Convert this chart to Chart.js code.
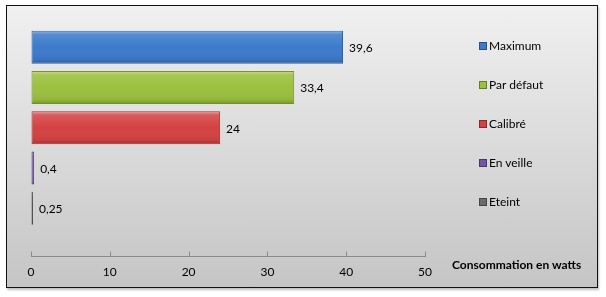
<!DOCTYPE html>
<html lang="fr">
  <head>
    <meta charset="UTF-8" />
    <title>Consommation en watts</title>
    <style>
      body {
        margin: 0;
        background: #fff;
        font-family: Lato, "Open Sans", sans-serif;
      }
      #frame {
        position: absolute;
        left: 6px;
        top: 5px;
        width: 590px;
        height: 281px;
        border: 1px solid #111;
        background: linear-gradient(#f0f0f0, #c5c5c5);
        box-shadow: 1px 2px 2px rgba(0, 0, 0, 0.25);
      }
      #chart {
        position: absolute;
        left: 0;
        top: 0;
      }
      #legend {
        position: absolute;
        left: 472px;
        top: 32px;
        font-size: 12px;
        color: #000;
      }
      .item {
        height: 39px;
        line-height: 16px;
        white-space: nowrap;
      }
      .box {
        display: inline-block;
        width: 6px;
        height: 6px;
        margin-right: 2px;
        vertical-align: 0px;
        border: 1px solid rgba(0, 0, 0, 0.35);
      }
      #axisTitle {
        position: absolute;
        left: 445px;
        top: 251px;
        font-size: 12px;
        font-weight: bold;
        color: #000;
      }
    </style>
    <script src="https://cdn.jsdelivr.net/npm/chart.js"></script>
  </head>
  <body>
    <div id="frame">
      <canvas id="chart" width="590" height="281"></canvas>
      <div id="legend"></div>
      <div id="axisTitle">Consommation en watts</div>
    </div>
    <script>
      // data
      const seriesNames = ["Maximum", "Par défaut", "Calibré", "En veille", "Eteint"];
      const seriesValues = [39.6, 33.4, 24, 0.4, 0.25];
      const valueLabels = ["39,6", "33,4", "24", "0,4", "0,25"];
      const seriesColors = ["#3d7bcb", "#9bc03f", "#d44343", "#7454a6", "#6b6b6b"];
      const borderColors = ["#2c5c9c", "#728f2c", "#a33131", "#553c7c", "#4a4a4a"];
      const xTicks = [0, 10, 20, 30, 40, 50];
      const rows = [1, 2, 3, 4, 5];

      // one dataset per series, each on its own row (grouped: false)
      const datasets = seriesNames.map(function (name, i) {
        return {
          label: name,
          data: [{ x: seriesValues[i], y: rows[i] }],
          backgroundColor: seriesColors[i],
          borderColor: borderColors[i],
          borderWidth: 1,
          borderSkipped: false,
          grouped: false,
          barPercentage: 0.82,
          categoryPercentage: 1,
        };
      });

      // shiny bevel on each bar
      const bevel = {
        id: "bevel",
        afterDatasetsDraw(chart) {
          const ctx = chart.ctx;
          chart.data.datasets.forEach(function (ds, i) {
            chart.getDatasetMeta(i).data.forEach(function (bar) {
              const top = bar.y - bar.height / 2;
              const left = Math.min(bar.x, bar.base);
              const w = Math.abs(bar.x - bar.base);
              const g = ctx.createLinearGradient(0, top, 0, top + bar.height);
              g.addColorStop(0, "rgba(255,255,255,0.45)");
              g.addColorStop(0.12, "rgba(255,255,255,0.12)");
              g.addColorStop(0.5, "rgba(255,255,255,0)");
              g.addColorStop(0.88, "rgba(0,0,0,0.06)");
              g.addColorStop(1, "rgba(0,0,0,0.25)");
              ctx.save();
              ctx.fillStyle = g;
              ctx.fillRect(left + 1, top + 1, w - 2, bar.height - 2);
              ctx.restore();
            });
          });
        },
      };

      // value labels after bar ends
      const valueText = {
        id: "valueText",
        afterDatasetsDraw(chart) {
          const ctx = chart.ctx;
          ctx.save();
          ctx.font = "12px Lato, 'Open Sans', sans-serif";
          ctx.fillStyle = "#000";
          ctx.textBaseline = "middle";
          chart.data.datasets.forEach(function (ds, i) {
            chart.getDatasetMeta(i).data.forEach(function (bar) {
              ctx.fillText(valueLabels[i], bar.x + 6, bar.y + 1);
            });
          });
          ctx.restore();
        },
      };

      // small tick marks pointing up from the axis line
      const upTicks = {
        id: "upTicks",
        afterDraw(chart) {
          const ctx = chart.ctx;
          const sx = chart.scales.x;
          const y = chart.chartArea.bottom;
          ctx.save();
          ctx.strokeStyle = "#8a8a8a";
          ctx.lineWidth = 1;
          xTicks.forEach(function (v) {
            const px = Math.round(sx.getPixelForValue(v)) + 0.5;
            ctx.beginPath();
            ctx.moveTo(px, y);
            ctx.lineTo(px, y - 5);
            ctx.stroke();
          });
          ctx.restore();
        },
      };

      new Chart(document.getElementById("chart"), {
        type: "bar",
        data: { datasets: datasets },
        options: {
          indexAxis: "y",
          responsive: false,
          animation: false,
          layout: { padding: { left: 24, right: 172, top: 21, bottom: 0 } },
          scales: {
            x: {
              type: "linear",
              min: 0,
              max: 50,
              afterBuildTicks(scale) {
                scale.ticks = xTicks.map(function (v) {
                  return { value: v };
                });
              },
              grid: { drawOnChartArea: false, drawTicks: false },
              border: { display: true, color: "#8a8a8a", width: 1 },
              ticks: {
                padding: 8,
                color: "#000",
                font: { family: "Lato, 'Open Sans', sans-serif", size: 12 },
              },
            },
            y: {
              type: "linear",
              display: false,
              offset: false,
              reverse: true,
              min: 0.5,
              max: 6.2,
              afterBuildTicks(scale) {
                scale.ticks = rows.map(function (v) {
                  return { value: v };
                });
              },
            },
          },
          plugins: {
            legend: { display: false },
            tooltip: { enabled: false },
          },
        },
        plugins: [bevel, valueText, upTicks],
      });

      // legend from the same arrays
      const legend = document.getElementById("legend");
      seriesNames.forEach(function (name, i) {
        const item = document.createElement("div");
        item.className = "item";
        const box = document.createElement("span");
        box.className = "box";
        box.style.background = seriesColors[i];
        item.appendChild(box);
        item.appendChild(document.createTextNode(name));
        legend.appendChild(item);
      });
    </script>
  </body>
</html>
